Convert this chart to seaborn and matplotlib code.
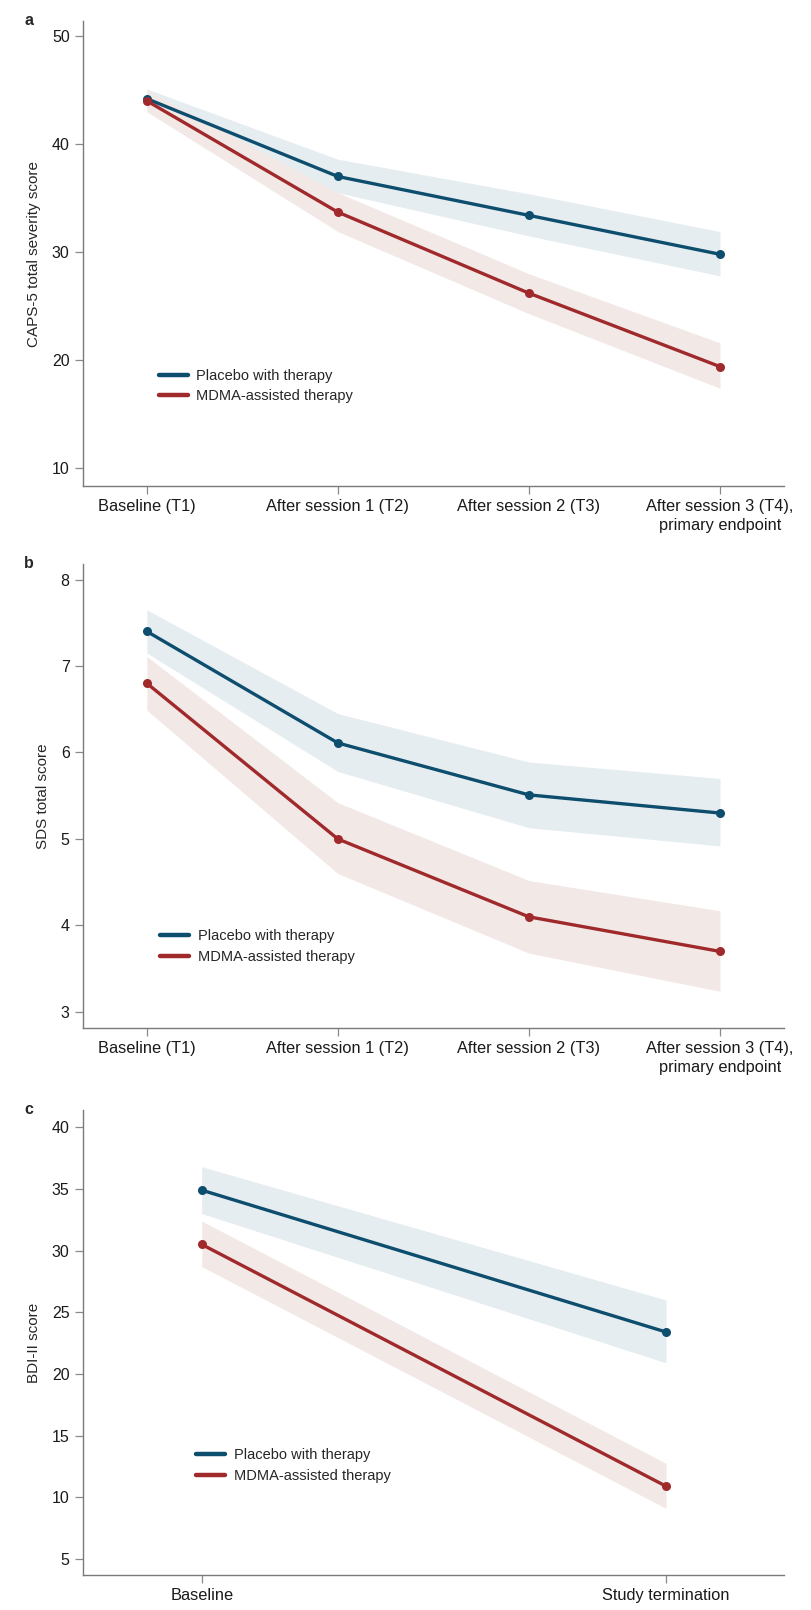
import matplotlib
matplotlib.use('Agg')
import matplotlib.pyplot as plt
import seaborn as sns
import pandas as pd
from matplotlib.lines import Line2D

# ---- data ----
groups = ['Placebo with therapy', 'MDMA-assisted therapy']

caps_labels = ['Baseline (T1)', 'After session 1 (T2)', 'After session 2 (T3)',
               'After session 3 (T4),\nprimary endpoint']
caps_placebo = [44.2, 37.0, 33.4, 29.8]
caps_placebo_lo = [43.3, 35.5, 31.5, 27.8]
caps_placebo_hi = [45.1, 38.6, 35.4, 31.9]
caps_mdma = [44.0, 33.7, 26.2, 19.4]
caps_mdma_lo = [43.0, 31.9, 24.3, 17.4]
caps_mdma_hi = [45.0, 35.5, 28.0, 21.6]

sds_labels = caps_labels
sds_placebo = [7.40, 6.11, 5.51, 5.30]
sds_placebo_lo = [7.15, 5.78, 5.13, 4.92]
sds_placebo_hi = [7.65, 6.45, 5.89, 5.70]
sds_mdma = [6.80, 5.00, 4.10, 3.70]
sds_mdma_lo = [6.49, 4.60, 3.68, 3.24]
sds_mdma_hi = [7.11, 5.42, 4.52, 4.17]

bdi_labels = ['Baseline', 'Study termination']
bdi_placebo = [34.9, 23.4]
bdi_placebo_lo = [33.0, 20.9]
bdi_placebo_hi = [36.8, 26.0]
bdi_mdma = [30.5, 10.9]
bdi_mdma_lo = [28.7, 9.1]
bdi_mdma_hi = [32.4, 12.75]

line_colors = {'Placebo with therapy': '#0d4d6d', 'MDMA-assisted therapy': '#a0292b'}
band_colors = {'Placebo with therapy': '#e6edf0', 'MDMA-assisted therapy': '#f2e9e7'}

sns.set_style('white')
plt.rcParams['font.family'] = ['Liberation Sans', 'DejaVu Sans']
plt.rcParams['axes.linewidth'] = 1.0


def make_frame(labels, placebo, p_lo, p_hi, mdma, m_lo, m_hi):
    n = len(labels)
    return pd.DataFrame({
        'pos': list(range(n)) * 2,
        'group': [groups[0]] * n + [groups[1]] * n,
        'mean': placebo + mdma,
        'lo': p_lo + m_lo,
        'hi': p_hi + m_hi,
    })


def draw_panel(ax, df, labels, ylabel, yticks, ylim, xlim, letter, leg_xy):
    for g in groups:
        sub = df[df['group'] == g]
        ax.fill_between(sub['pos'], sub['lo'], sub['hi'], color=band_colors[g],
                        linewidth=0, zorder=1)
    sns.lineplot(data=df, x='pos', y='mean', hue='group', hue_order=groups,
                 palette=line_colors, marker='o', markersize=6.5,
                 markeredgewidth=0, linewidth=2.4, legend=False, ax=ax, zorder=3)
    ax.set_xlim(*xlim)
    ax.set_ylim(*ylim)
    ax.set_xticks(range(len(labels)))
    ax.set_xticklabels(labels, fontsize=11.8, linespacing=1.3)
    ax.set_yticks(yticks)
    ax.set_yticklabels([str(t) for t in yticks], fontsize=11.5)
    ax.set_xlabel('')
    ax.set_ylabel(ylabel, fontsize=11, labelpad=8)
    sns.despine(ax=ax)
    for s in ['left', 'bottom']:
        ax.spines[s].set_color('#7a7a7a')
    ax.tick_params(axis='both', bottom=True, left=True, colors='#8a8a8a',
                   labelcolor='#1a1a1a', length=5.5, width=0.9, direction='out')
    ax.tick_params(axis='x', pad=4)
    ax.tick_params(axis='y', pad=4)
    handles = [Line2D([0], [0], color=line_colors[g], lw=3.2,
                      solid_capstyle='round') for g in groups]
    ax.legend(handles, groups, loc='center left', bbox_to_anchor=leg_xy,
              frameon=False, fontsize=10.5, handlelength=2.0,
              handletextpad=0.6, labelspacing=0.45, borderpad=0,
              borderaxespad=0)
    ax.text(-0.07, 1.0, letter, transform=ax.transAxes, fontsize=11.5,
            fontweight='bold', va='center', ha='right')


fig = plt.figure(figsize=(8.12, 16.1), dpi=100)
ax_a = fig.add_axes([0.102, 0.698, 0.8635, 0.289])
ax_b = fig.add_axes([0.102, 0.3615, 0.8635, 0.2885])
ax_c = fig.add_axes([0.102, 0.0217, 0.8635, 0.2889])

df_a = make_frame(caps_labels, caps_placebo, caps_placebo_lo, caps_placebo_hi,
                  caps_mdma, caps_mdma_lo, caps_mdma_hi)
df_b = make_frame(sds_labels, sds_placebo, sds_placebo_lo, sds_placebo_hi,
                  sds_mdma, sds_mdma_lo, sds_mdma_hi)
df_c = make_frame(bdi_labels, bdi_placebo, bdi_placebo_lo, bdi_placebo_hi,
                  bdi_mdma, bdi_mdma_lo, bdi_mdma_hi)

draw_panel(ax_a, df_a, caps_labels, 'CAPS-5 total severity score',
           [10, 20, 30, 40, 50], (8.33, 51.4), (-0.335, 3.335), 'a', (0.108, 0.215))
draw_panel(ax_b, df_b, sds_labels, 'SDS total score',
           [3, 4, 5, 6, 7, 8], (2.815, 8.185), (-0.335, 3.335), 'b', (0.110, 0.175))
draw_panel(ax_c, df_c, bdi_labels, 'BDI-II score',
           [5, 10, 15, 20, 25, 30, 35, 40], (3.7, 41.4), (-0.256, 1.254), 'c', (0.161, 0.235))

fig.savefig('out.png', dpi=100)
